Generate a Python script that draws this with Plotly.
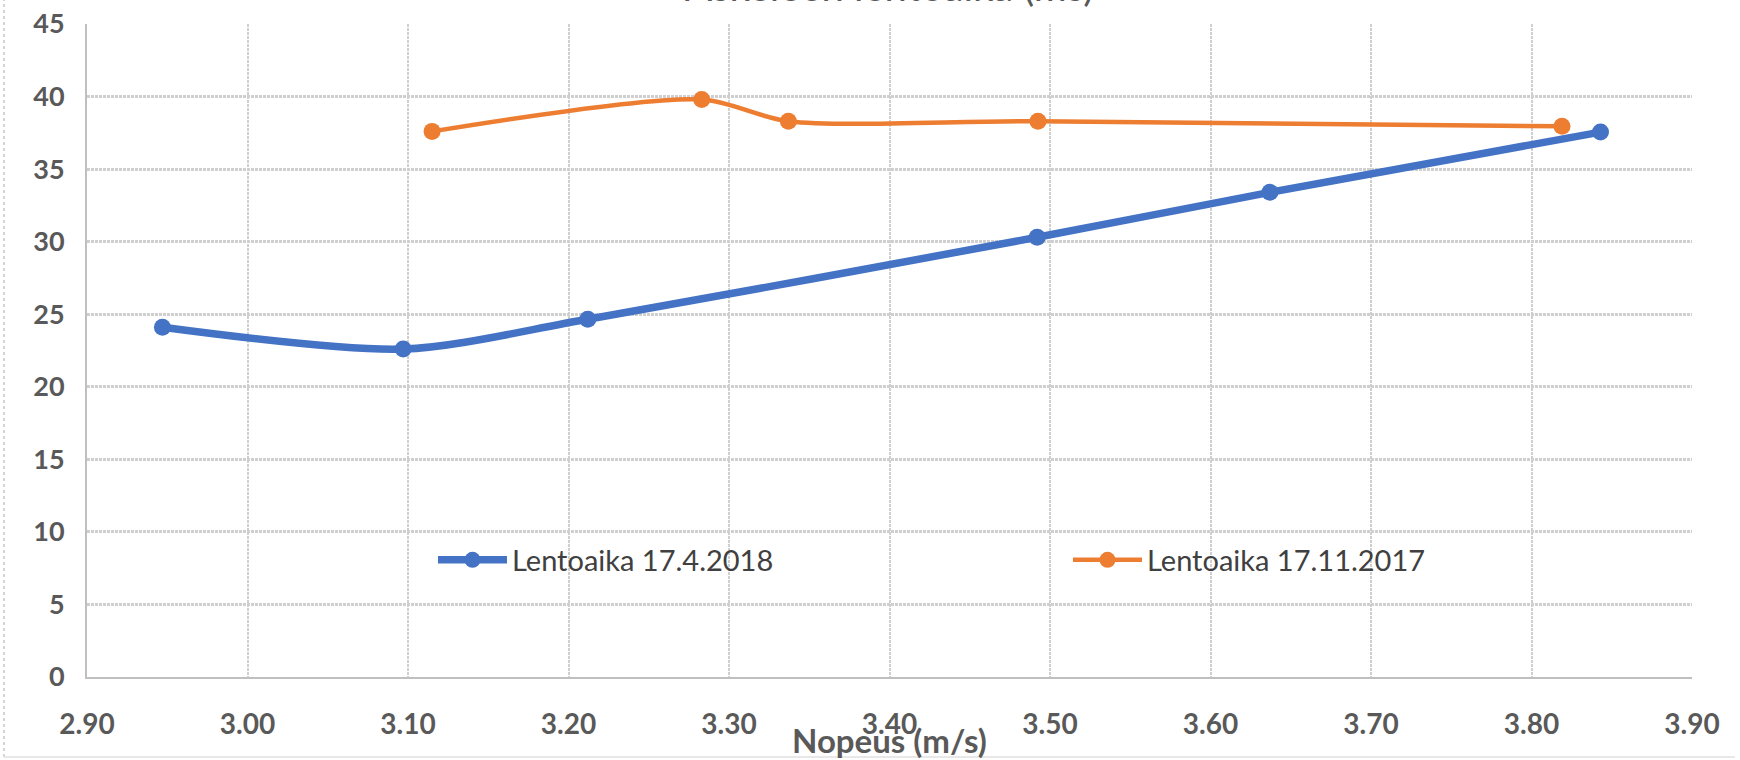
import plotly.graph_objects as go

# ---- data ----
speed_2018 = [2.947, 3.097, 3.212, 3.492, 3.637, 3.843]
flight_2018 = [24.1, 22.6, 24.65, 30.3, 33.4, 37.55]

speed_2017 = [3.115, 3.283, 3.337, 3.4925, 3.819]
flight_2017 = [37.6, 39.8, 38.3, 38.3, 37.95]

name_2018 = "Lentoaika 17.4.2018"
name_2017 = "Lentoaika 17.11.2017"
chart_title = "Askeleen lentoaika (ms)"
x_title = "Nopeus (m/s)"
x_ticks = [2.90, 3.00, 3.10, 3.20, 3.30, 3.40, 3.50, 3.60, 3.70, 3.80, 3.90]
y_ticks = [0, 5, 10, 15, 20, 25, 30, 35, 40, 45]

W, H = 1740, 760
ML, MR, MT, MB = 87, 48, 24, 83
PW, PH = W - ML - MR, H - MT - MB

BLUE = "#4472C4"
ORANGE = "#ED7D31"
TXT = "#595959"
GRID = "#cfcfcf"

fig = go.Figure()
fig.add_trace(go.Scatter(
    x=speed_2018, y=flight_2018, name=name_2018, mode="lines+markers",
    line=dict(color=BLUE, width=7.5, shape="spline", smoothing=0.8),
    marker=dict(color=BLUE, size=17),
))
fig.add_trace(go.Scatter(
    x=speed_2017, y=flight_2017, name=name_2017, mode="lines+markers",
    line=dict(color=ORANGE, width=4.5, shape="spline", smoothing=0.8),
    marker=dict(color=ORANGE, size=17),
))

fig.update_layout(
    width=W, height=H,
    margin=dict(l=ML, r=MR, t=MT, b=MB, autoexpand=False),
    paper_bgcolor="white", plot_bgcolor="white",
    font=dict(family="Lato", color=TXT),
    title=dict(text=chart_title, x=(ML + PW / 2) / W, xanchor="center",
               y=1 - 1 / H, yanchor="bottom", yref="container",
               font=dict(family="Lato", size=40, color=TXT)),
    showlegend=True,
    legend=dict(orientation="h", x=(433 - ML) / PW, xanchor="left",
                y=(677 - 560) / PH, yanchor="middle",
                bgcolor="rgba(0,0,0,0)", entrywidth=551, entrywidthmode="pixels",
                font=dict(family="Lato", size=29, color="#404040"),
                itemwidth=69),
)

fig.update_xaxes(
    range=[2.9, 3.9], tickvals=x_ticks, tickformat=".2f",
    showgrid=True, gridcolor=GRID, gridwidth=1.5, griddash="3px,1px",
    showline=True, linecolor="#bfbfbf", linewidth=2,
    zeroline=False, ticks="", ticklabelstandoff=21,
    tickfont=dict(family="Lato", size=28, color=TXT, weight="bold"),
    automargin=False, fixedrange=True,
)
fig.update_yaxes(
    range=[0, 45], tickvals=y_ticks,
    showgrid=True, gridcolor=GRID, gridwidth=2.5, griddash="3px,1px",
    showline=True, linecolor="#bfbfbf", linewidth=2,
    zeroline=False, ticks="", ticklabelstandoff=15,
    tickfont=dict(family="Lato", size=27, color=TXT, weight="bold"),
    automargin=False, fixedrange=True,
)

fig.add_annotation(
    text=x_title, xref="paper", yref="paper", x=0.5, y=(677 - 740) / PH,
    xanchor="center", yanchor="middle", showarrow=False,
    font=dict(family="Lato", size=33, color=TXT, weight="bold"),
)

# faint chart border (left and bottom)
fig.add_shape(type="line", xref="paper", yref="paper",
              x0=(4 - ML) / PW, x1=(4 - ML) / PW, y0=(677 - 757) / PH, y1=(677) / PH + 0.04,
              line=dict(color="#c8c8c8", width=1.5, dash="dot"))
fig.add_shape(type="line", xref="paper", yref="paper",
              x0=(4 - ML) / PW, x1=(1735 - ML) / PW, y0=(677 - 757) / PH, y1=(677 - 757) / PH,
              line=dict(color="#e0e0e0", width=1.5))

fig.write_html("out.html", config={"displayModeBar": False})
